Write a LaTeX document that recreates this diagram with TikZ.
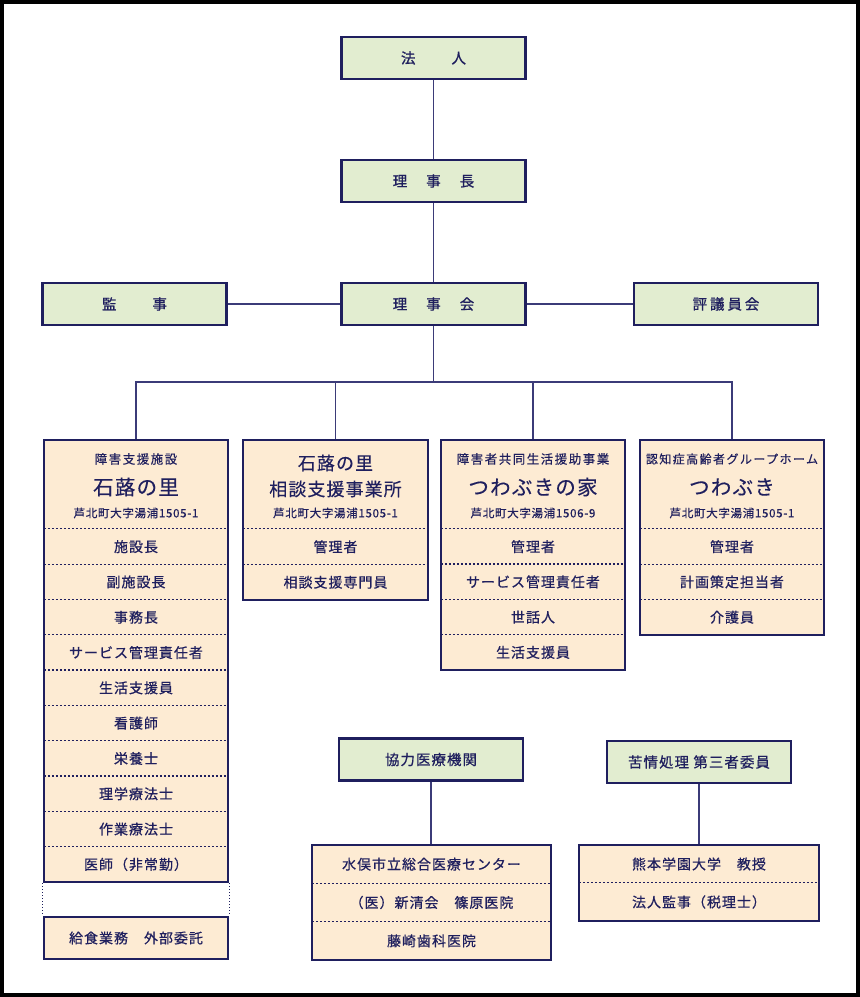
\documentclass[tikz,border=0pt]{standalone}
\usepackage{fontspec}
\setmainfont{Noto Sans CJK JP}
\newfontfamily\jprow[LetterSpace=7,FakeBold=0.6]{Noto Sans CJK JP}
\newfontfamily\jphdr[LetterSpace=12,FakeBold=0.5]{Noto Sans CJK JP}
\newfontfamily\jpadr[LetterSpace=6,FakeBold=0.5]{Noto Sans CJK JP}
\newfontfamily\jpttl[LetterSpace=6,FakeBold=0.3]{Noto Sans CJK JP}
\newfontfamily\jptop[LetterSpace=20,FakeBold=1]{Noto Sans CJK JP}
\definecolor{navy}{HTML}{1F1F5E}
\definecolor{linec}{HTML}{3B3B78}
\definecolor{grn}{HTML}{E2EDD0}
\definecolor{bge}{HTML}{FDEBD3}
\begin{document}
\begin{tikzpicture}[x=1pt,y=-1pt,
  topbox/.style={draw=navy, line width=2.4pt, fill=grn, minimum width=184pt, minimum height=42pt, inner sep=0pt, font=\jptop\fontsize{14.5}{16}\selectfont, text=navy},
  orgbox/.style={draw=navy, line width=2.4pt, fill=bge, inner sep=0pt},
  rowc/.style={inner sep=0pt, font=\jprow\fontsize{14}{16}\selectfont, text=navy},
  sepline/.style={draw=navy, line width=1.2pt, dash pattern=on 2.4pt off 1.6pt},
  dotline/.style={draw=navy, line width=1.2pt, dash pattern=on 1.2pt off 1.8pt},
  conn/.style={draw=linec, line width=1.5pt},
  hdr/.style={font=\jphdr\fontsize{12.5}{14}\selectfont, text=navy, inner sep=0pt},
  adr/.style={font=\jpadr\fontsize{11.5}{14}\selectfont, text=navy, inner sep=0pt},
  ttl/.style={font=\jpttl\fontsize{20.5}{22}\selectfont, text=navy, inner sep=0pt},
  ttlsm/.style={font=\jpttl\fontsize{18}{22}\selectfont, text=navy, inner sep=0pt}]
\useasboundingbox (0,0) rectangle (860,997);
\fill[white] (0,0) rectangle (860,997);
\draw[black, line width=3.6pt] (1.8,1.8) rectangle (858.2,995.2);

% top hierarchy
\node[topbox] (hojin) at (433.5,58) {法\hspace{36pt}人};
\node[topbox] (richo) at (433.5,181) {理\hspace{19pt}事\hspace{19pt}長};
\node[topbox] (rijikai) at (433.5,304) {理\hspace{19pt}事\hspace{19pt}会};
\node[topbox] (kanji) at (134.5,304) {監\hspace{36pt}事};
\node[topbox] (hyogi) at (726,304) {評議員会};
\draw[conn] (hojin) -- (richo);
\draw[conn] (richo) -- (rijikai);
\draw[conn] (kanji) -- (rijikai);
\draw[conn] (rijikai) -- (hyogi);

% box 1
\node[orgbox, minimum width=184pt, minimum height=442pt] (b1) at (136,661) {};
\node[hdr] (b1h) at (136,459) {障害支援施設};
\node[ttl] (b1t) at (136,487) {石蕗の里};
\node[adr] (b1a) at (136,513) {芦北町大字湯浦1505-1};
\foreach \t [count=\i] in {施設長,副施設長,事務長,サービス管理責任者,生活支援員,看護師,栄養士,理学療法士,作業療法士,医師（非常勤）}{
  \node[rowc, minimum width=184pt, minimum height=35.3pt] (b1r\i) at (136,{529+35.3*\i-17.65}) {\t};
  \draw[sepline] (b1r\i.north west) -- (b1r\i.north east);
}
\node[orgbox, minimum width=184pt, minimum height=42pt, font=\jprow\fontsize{14}{16}\selectfont, text=navy] (b1x) at (136,938) {給食業務　外部委託};
\draw[dotline] (b1.south west) -- (b1x.north west);
\draw[dotline] (b1.south east) -- (b1x.north east);

% box 2
\node[orgbox, minimum width=185pt, minimum height=160pt] (b2) at (335.5,520) {};
\node[ttlsm] (b2t1) at (335.5,463) {石蕗の里};
\node[ttlsm] (b2t2) at (335.5,489) {相談支援事業所};
\node[adr] (b2a) at (335.5,513) {芦北町大字湯浦1505-1};
\foreach \t [count=\i] in {管理者,相談支援専門員}{
  \node[rowc, minimum width=185pt, minimum height=35.5pt] (b2r\i) at (335.5,{529+35.5*\i-17.75}) {\t};
  \draw[sepline] (b2r\i.north west) -- (b2r\i.north east);
}

% box 3
\node[orgbox, minimum width=184pt, minimum height=230pt] (b3) at (533,555) {};
\node[hdr] (b3h) at (533,459) {障害者共同生活援助事業};
\node[ttl] (b3t) at (533,487) {つわぶきの家};
\node[adr] (b3a) at (533,513) {芦北町大字湯浦1506-9};
\foreach \t [count=\i] in {管理者,サービス管理責任者,世話人,生活支援員}{
  \node[rowc, minimum width=184pt, minimum height=35.25pt] (b3r\i) at (533,{529+35.25*\i-17.625}) {\t};
  \draw[sepline] (b3r\i.north west) -- (b3r\i.north east);
}

% box 4
\node[orgbox, minimum width=184pt, minimum height=195pt] (b4) at (732,537.5) {};
\node[hdr, font=\jphdr\fontsize{12}{14}\selectfont] (b4h) at (732,459) {認知症高齢者グループホーム};
\node[ttl] (b4t) at (732,487) {つわぶき};
\node[adr] (b4a) at (732,513) {芦北町大字湯浦1505-1};
\foreach \t [count=\i] in {管理者,計画策定担当者,介護員}{
  \node[rowc, minimum width=184pt, minimum height=35.3pt] (b4r\i) at (732,{529+35.3*\i-17.65}) {\t};
  \draw[sepline] (b4r\i.north west) -- (b4r\i.north east);
}

% bus
\coordinate (bus) at (433.5,382);
\draw[conn] (rijikai) -- (bus);
\draw[conn] (b1.north) |- (bus) -| (b4.north);
\draw[conn] (b2.north) -- (b2.north |- bus);
\draw[conn] (b3.north) -- (b3.north |- bus);

% cooperating medical
\node[topbox, font=\jprow\fontsize{14.5}{16}\selectfont] (kyo) at (431,759.5) {協力医療機関};
\node[orgbox, minimum width=239pt, minimum height=115pt] (med) at (431.5,902.5) {};
\foreach \t [count=\i] in {水俣市立総合医療センター,（医）新清会　篠原医院,藤崎歯科医院}{
  \node[rowc, minimum width=239pt, minimum height=38.33pt] (medr\i) at (431.5,{845+38.33*\i-19.17}) {\t};
  \ifnum\i>1 \draw[sepline] (medr\i.north west) -- (medr\i.north east);\fi
}
\draw[conn] (kyo.south) -- (kyo.south |- med.north);

% complaints
\node[topbox, font=\jprow\fontsize{14.5}{16}\selectfont] (kujo) at (699,762) {苦情処理 第三者委員};
\node[orgbox, minimum width=240pt, minimum height=76pt] (com) at (699,883) {};
\foreach \t [count=\i] in {熊本学園大学　教授,法人監事（税理士）}{
  \node[rowc, minimum width=240pt, minimum height=38pt] (comr\i) at (699,{845+38*\i-19}) {\t};
  \ifnum\i>1 \draw[sepline] (comr\i.north west) -- (comr\i.north east);\fi
}
\draw[conn] (kujo.south) -- (kujo.south |- com.north);
\end{tikzpicture}
\end{document}
